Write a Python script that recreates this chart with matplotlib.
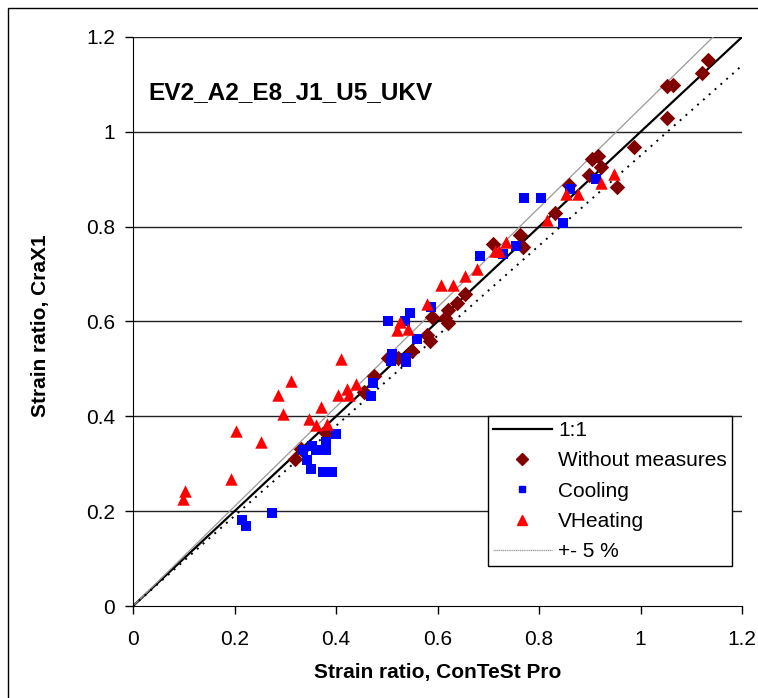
import numpy as np
import matplotlib
matplotlib.use('Agg')
import matplotlib.pyplot as plt
from matplotlib.lines import Line2D
from matplotlib.patches import Rectangle

plt.rcParams['font.family'] = ['Liberation Sans', 'DejaVu Sans']

# Without measures
wm_x = [0.319, 0.330, 0.380, 0.455, 0.475, 0.503, 0.523, 0.549, 0.579, 0.585,
        0.589, 0.614, 0.621, 0.621, 0.639, 0.655, 0.710, 0.762, 0.769, 0.832,
        0.859, 0.899, 0.904, 0.917, 0.923, 0.954, 0.988, 1.052, 1.052, 1.063,
        1.122, 1.133]
wm_y = [0.310, 0.331, 0.364, 0.452, 0.485, 0.524, 0.524, 0.537, 0.572, 0.558,
        0.610, 0.608, 0.597, 0.625, 0.639, 0.657, 0.764, 0.782, 0.758, 0.829,
        0.888, 0.909, 0.942, 0.948, 0.926, 0.883, 0.969, 1.030, 1.096, 1.098,
        1.125, 1.151]

# Cooling
cool_x = [0.215, 0.223, 0.274, 0.335, 0.343, 0.350, 0.353, 0.361, 0.374, 0.380,
          0.380, 0.392, 0.399, 0.469, 0.473, 0.503, 0.508, 0.511, 0.535, 0.538,
          0.537, 0.546, 0.560, 0.587, 0.684, 0.728, 0.755, 0.770, 0.804, 0.847,
          0.861, 0.913]
cool_y = [0.181, 0.169, 0.197, 0.328, 0.307, 0.289, 0.338, 0.328, 0.283, 0.345,
          0.328, 0.283, 0.362, 0.442, 0.471, 0.602, 0.516, 0.532, 0.602, 0.522,
          0.515, 0.618, 0.563, 0.630, 0.738, 0.743, 0.760, 0.861, 0.861, 0.807,
          0.880, 0.901]

# VHeating
heat_x = [0.099, 0.103, 0.193, 0.203, 0.252, 0.286, 0.296, 0.311, 0.346, 0.360,
          0.370, 0.382, 0.404, 0.409, 0.421, 0.426, 0.439, 0.520, 0.526, 0.541,
          0.579, 0.607, 0.630, 0.655, 0.677, 0.714, 0.722, 0.734, 0.816, 0.853,
          0.877, 0.923, 0.948]
heat_y = [0.225, 0.243, 0.267, 0.369, 0.345, 0.444, 0.405, 0.474, 0.395, 0.382,
          0.419, 0.384, 0.446, 0.521, 0.457, 0.445, 0.468, 0.582, 0.599, 0.584,
          0.636, 0.677, 0.677, 0.695, 0.710, 0.748, 0.749, 0.767, 0.814, 0.869,
          0.869, 0.892, 0.911]

ticks = [0, 0.2, 0.4, 0.6, 0.8, 1.0, 1.2]
tick_labels = ['0', '0.2', '0.4', '0.6', '0.8', '1', '1.2']
line_x = [0, 1.2]
tol = 0.05

fig = plt.figure(figsize=(7.58, 6.98), dpi=100)
ax = fig.add_axes([0.1755, 0.1318, 0.8035, 0.8152])

# outer chart frame (only top/left edges inside the crop)
fig.patches.append(Rectangle((8 / 758, -0.1), 1.2, 1 - 8 / 698 + 0.1,
                             transform=fig.transFigure, fill=False,
                             edgecolor='black', linewidth=1))

for t in ticks[1:]:
    ax.axhline(t, color='#222222', linewidth=1, zorder=1)

lx = np.array(line_x)
ax.plot(lx, lx, color='black', linewidth=1.6, zorder=2)
ax.plot(lx, lx * (1 + tol), color='#999999', linewidth=0.9, zorder=2)
ax.plot(lx, lx * (1 - tol), color='black', linewidth=1.4, linestyle=(0, (1, 3)), zorder=2)

ax.scatter(wm_x, wm_y, marker='D', s=62, color='#800000', linewidths=0, zorder=3)
ax.scatter(cool_x, cool_y, marker='s', s=42, color='#0000FF', linewidths=0, zorder=3)
ax.scatter(heat_x, heat_y, marker='^', s=80, color='#FF0000', linewidths=0, zorder=3)

ax.set_xlim(0, 1.2)
ax.set_ylim(0, 1.2)
ax.set_xticks(ticks)
ax.set_xticklabels(tick_labels)
ax.set_yticks(ticks)
ax.set_yticklabels(tick_labels)
ax.tick_params(axis='both', direction='out', length=6, width=1, color='black',
               labelsize=15)
ax.tick_params(axis='x', pad=11)
ax.tick_params(axis='y', pad=7)
ax.spines['top'].set_visible(False)
ax.spines['right'].set_visible(False)
ax.spines['left'].set_color('black')
ax.spines['bottom'].set_color('black')

ax.set_xlabel('Strain ratio, ConTeSt Pro', fontsize=15, fontweight='bold')
ax.xaxis.set_label_coords(0.5, -0.100)
ax.set_ylabel('Strain ratio, CraX1', fontsize=15, fontweight='bold')
ax.yaxis.set_label_coords(-0.136, 0.492)

ax.text(0.0246, 0.891, 'EV2_A2_E8_J1_U5_UKV', transform=ax.transAxes,
        fontsize=17.6, fontweight='bold', va='baseline', ha='left')

handles = [
    Line2D([], [], color='black', linewidth=1.6),
    Line2D([], [], marker='D', color='#800000', linestyle='none', markersize=6),
    Line2D([], [], marker='s', color='#0000FF', linestyle='none', markersize=5),
    Line2D([], [], marker='^', color='#FF0000', linestyle='none', markersize=6.5),
    Line2D([], [], color='#999999', linewidth=0.9, linestyle=(0, (1, 0.5))),
]
labels = ['1:1', 'Without measures', 'Cooling', 'VHeating', '+- 5 %']
leg = ax.legend(handles, labels, loc='upper left', bbox_to_anchor=(0.583, 0.334),
                fontsize=15, frameon=True, fancybox=False, framealpha=1,
                edgecolor='black', handlelength=2.8, handletextpad=0.3,
                labelspacing=0.54, borderpad=0.25, borderaxespad=0)
leg.get_frame().set_linewidth(1)

fig.savefig('out.png', dpi=100)
